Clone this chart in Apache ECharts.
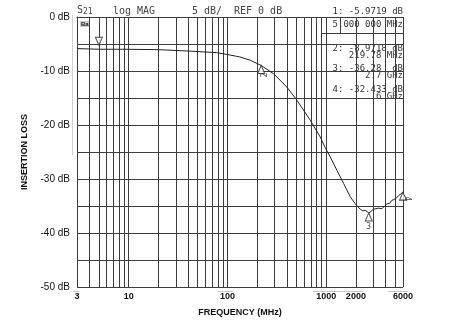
<!DOCTYPE html>
<html><head><meta charset="utf-8">
<script src="https://cdn.jsdelivr.net/npm/echarts@6/dist/echarts.min.js"></script>
<style>html,body{margin:0;padding:0;background:#fff}#c{width:467px;height:323px}</style>
</head><body><div id="c"></div>
<script>
// ---- data ----
const freqMHz = [3, 5, 10, 20, 40, 78, 100, 134, 170, 219.78, 293, 400, 505, 689, 870, 978, 1099, 1286, 1500, 1754, 1971, 2215, 2350, 2487, 2600, 2700, 2850, 3000, 3142, 3400, 3675, 3900, 4128, 4400, 4600, 4818, 5100, 5400, 5633, 5850, 6000];
const insertionLossDb = [-5.85, -5.97, -5.98, -6.05, -6.3, -6.6, -6.95, -7.4, -8.0, -8.97, -10.5, -12.96, -15.4, -19.1, -22.2, -24.2, -25.9, -28.4, -30.8, -33.3, -34.6, -35.6, -35.9, -35.8, -36.1, -36.28, -36.0, -35.6, -35.8, -35.4, -35.5, -35.0, -34.6, -34.5, -34.0, -33.8, -33.6, -33.1, -33.0, -32.6, -32.43];
const markerFreqMHz = [5, 219.78, 2700, 6000];
const markerLossDb = [-5.9719, -8.9718, -36.28, -32.433];
const markerNames = ['1', '2', '3', '4'];
const xGridValues = [3, 4, 5, 6, 7, 8, 9, 10, 20, 30, 40, 50, 60, 70, 80, 90, 100, 200, 300, 400, 500, 600, 700, 800, 900, 1000, 2000, 3000, 4000, 5000, 6000];
const xTickLabels = [3, 10, 100, 1000, 2000, 6000];
const yMin = -50, yMax = 0, yStep = 5, yLabelStep = 10;

// ---- chart ----
const chart = echarts.init(document.getElementById('c'), null, { renderer: 'canvas' });
const gridCol = '#3c3c3c';
const mono = '"DejaVu Sans Mono", monospace';
const sans = '"Liberation Sans", Arial, sans-serif';

const markerStyles = [
  { symbolRotate: 180, symbolOffset: [0, -8], label: { show: false } },
  { symbolRotate: 0, symbolOffset: [0, 4], label: { show: true, position: 'bottom', distance: 1, rotate: 90 } },
  { symbolRotate: 0, symbolOffset: [0, 4], label: { show: true, position: 'bottom', distance: 1 } },
  { symbolRotate: 0, symbolOffset: [0, 4], label: { show: true, position: 'right', distance: 0, rotate: -90 } }
];

const markerData = markerFreqMHz.map((f, i) => Object.assign({
  value: [f, markerLossDb[i]], name: markerNames[i]
}, markerStyles[i]));

const rightX = 403;
function panelText(txt, y, size) {
  return { type: 'text', right: 467 - rightX, top: y - 5, style: { text: txt, font: (size || 9) + 'px ' + mono, fill: '#333', textAlign: 'right' } };
}

chart.setOption({
  animation: false,
  backgroundColor: '#fff',
  grid: { left: 77, right: 64, top: 17, bottom: 36, containLabel: false },
  xAxis: {
    type: 'log', logBase: 10, min: 3, max: 6000,
    name: 'FREQUENCY (MHz)', nameLocation: 'middle', nameGap: 21,
    nameTextStyle: { fontFamily: sans, fontSize: 9, fontWeight: 'bold', color: '#111' },
    axisLine: { show: true, lineStyle: { color: gridCol, width: 1 } },
    axisTick: { show: false, customValues: xGridValues },
    axisLabel: { customValues: xTickLabels, formatter: v => String(Math.round(v)), fontFamily: sans, fontSize: 9, fontWeight: 'bold', color: '#111', margin: 5 },
    splitLine: { show: true, lineStyle: { color: gridCol, width: 1 } },
    minorTick: { show: false }, minorSplitLine: { show: false }
  },
  yAxis: {
    type: 'value', min: yMin, max: yMax, interval: yStep,
    name: 'INSERTION LOSS', nameLocation: 'middle', nameGap: 48, nameRotate: 90,
    nameTextStyle: { fontFamily: sans, fontSize: 9, fontWeight: 'bold', color: '#111' },
    axisLine: { show: true, lineStyle: { color: gridCol, width: 1 } },
    axisTick: { show: false },
    axisLabel: { formatter: v => (Math.round(v) % yLabelStep === 0 ? v + ' dB' : ''), fontFamily: sans, fontSize: 10, color: '#111', margin: 7 },
    splitLine: { show: true, lineStyle: { color: gridCol, width: 1 } }
  },
  series: [
    {
      type: 'line', data: freqMHz.map((f, i) => [f, insertionLossDb[i]]),
      showSymbol: false, smooth: false,
      lineStyle: { color: '#222', width: 1 }, z: 3
    },
    {
      type: 'scatter', data: markerData,
      symbol: 'triangle', symbolSize: [7, 8],
      itemStyle: { color: '#fff', borderColor: '#222', borderWidth: 1 },
      label: { formatter: '{b}', fontFamily: mono, fontSize: 8, color: '#222' },
      z: 4
    }
  ],
  graphic: [
    { type: 'text', left: 77, top: 5, style: { text: '{s|S}{sub|21}', rich: { s: { font: '10px ' + mono, fill: '#444' }, sub: { font: '8px ' + mono, fill: '#444', padding: [4, 0, 0, 0] } } } },
    { type: 'text', left: 113, top: 6, style: { text: 'log MAG', font: '10px ' + mono, fill: '#444' } },
    { type: 'text', left: 192, top: 6, style: { text: '5 dB/', font: '10px ' + mono, fill: '#444' } },
    { type: 'text', left: 234, top: 6, style: { text: 'REF 0 dB', font: '10px ' + mono, fill: '#444' } },
    { type: 'text', left: 80, top: 21, style: { text: 'Ba', font: 'bold 6px ' + sans, fill: '#222', backgroundColor: '#ccc', padding: [0, 1] } },
    panelText('1: -5.9719 dB', 12),
    panelText('5.000 000 MHz', 25),
    panelText('2: -8.9718 dB', 49),
    panelText('219.78 MHz', 56),
    panelText('3: -36.28  dB', 69),
    panelText('2.7 GHz', 76),
    panelText('4: -32.433 dB', 90),
    panelText('6 GHz', 97),
    { type: 'line', shape: { x1: 322, y1: 33.5, x2: 403, y2: 33.5 }, style: { stroke: gridCol, lineWidth: 1 } },
    { type: 'line', shape: { x1: 340.5, y1: 17, x2: 340.5, y2: 33.5 }, style: { stroke: gridCol, lineWidth: 1 } },
    { type: 'line', shape: { x1: 72.5, y1: 15, x2: 72.5, y2: 155 }, style: { stroke: '#d0d0d0', lineWidth: 1 } },
    { type: 'line', shape: { x1: 73, y1: 291.5, x2: 79, y2: 291.5 }, style: { stroke: '#c8c8c8', lineWidth: 1 } },
    { type: 'line', shape: { x1: 218, y1: 291.5, x2: 233, y2: 291.5 }, style: { stroke: '#c8c8c8', lineWidth: 1 } },
    { type: 'line', shape: { x1: 313, y1: 291.5, x2: 363, y2: 291.5 }, style: { stroke: '#c8c8c8', lineWidth: 1 } },
    { type: 'line', shape: { x1: 388, y1: 291.5, x2: 408, y2: 291.5 }, style: { stroke: '#c8c8c8', lineWidth: 1 } }
  ]
});
</script>
</body></html>
